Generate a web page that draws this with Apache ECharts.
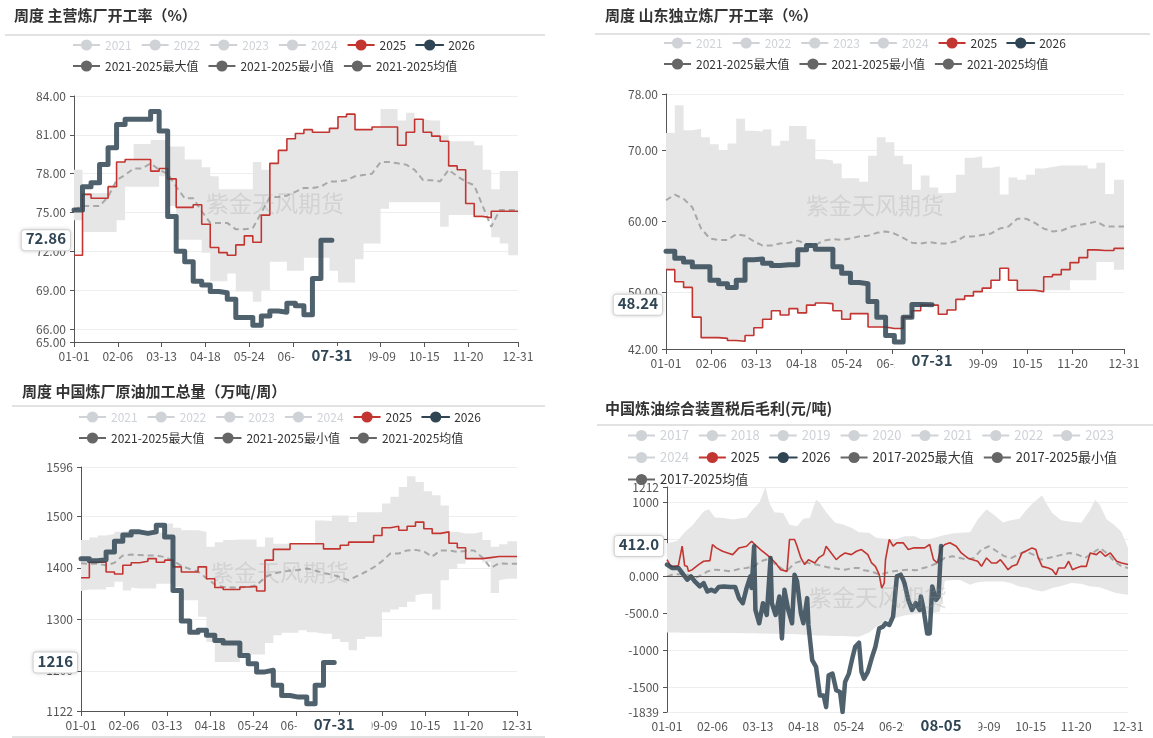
<!DOCTYPE html>
<html>
<head>
<meta charset="utf-8">
<title>炼厂开工率与毛利</title>
<script src="https://cdn.jsdelivr.net/npm/echarts@6/dist/echarts.min.js"></script>
<style>
  html, body { margin: 0; padding: 0; background: #fff; }
  .box { position: absolute; }
</style>
</head>
<body>
<div id="c1" class="box" style="left:0;top:0;width:576px;height:370px"></div>
<div id="c2" class="box" style="left:576px;top:0;width:577px;height:370px"></div>
<div id="c3" class="box" style="left:0;top:370px;width:576px;height:368px"></div>
<div id="c4" class="box" style="left:576px;top:370px;width:577px;height:368px"></div>
<script>
// x 轴：按闰年日历的 MM-DD
const CATS = [];
for (let d = new Date(2024, 0, 1); d.getFullYear() === 2024; d.setDate(d.getDate() + 1)) {
  CATS.push(String(d.getMonth() + 1).padStart(2, '0') + '-' + String(d.getDate()).padStart(2, '0'));
}

// ---- 周度 主营炼厂开工率（%） 周度数据，从 01-01 起每 7 天一个点
const p1_2025 = [71.7, 76.4, 76.1, 76.1, 77.0, 78.9, 79.1, 79.1, 79.1, 78.2, 78.4, 77.6, 75.4, 75.4, 75.6, 74.1, 72.3, 71.9, 71.7, 72.5, 73.2, 72.7, 74.8, 78.8, 79.8, 80.7, 81.1, 81.4, 81.2, 81.2, 81.5, 82.4, 82.6, 81.4, 81.4, 81.6, 81.6, 81.6, 80.2, 81.2, 82.2, 81.2, 80.9, 80.5, 78.6, 78.3, 75.7, 74.7, 74.6, 75.1, 75.1, 75.1];
const p1_2026 = [75.2, 77.0, 77.3, 78.7, 80.0, 81.8, 82.2, 82.2, 82.2, 82.8, 81.3, 74.7, 72.0, 71.2, 69.7, 69.4, 68.9, 68.8, 68.3, 66.9, 66.9, 66.3, 67.0, 67.4, 67.3, 68.0, 67.8, 67.1, 69.9, 72.86];
const p1_max = [78.3, 76.5, 76.5, 76.5, 77.0, 78.9, 79.1, 80.3, 80.3, 80.6, 80.6, 80.1, 80.1, 79.1, 79.1, 78.5, 77.8, 76.8, 76.8, 76.8, 76.8, 78.9, 78.3, 78.8, 79.8, 80.7, 81.1, 81.4, 81.2, 81.2, 81.5, 82.4, 82.6, 81.4, 81.4, 81.6, 83.0, 83.0, 82.1, 82.7, 82.2, 82.1, 82.1, 81.0, 80.5, 80.5, 80.5, 80.2, 78.3, 76.8, 78.2, 78.2];
const p1_min = [74.4, 73.5, 73.5, 73.5, 73.5, 74.4, 77.0, 77.0, 77.0, 77.0, 77.8, 75.5, 72.9, 72.9, 72.9, 71.9, 69.7, 69.7, 70.3, 68.9, 68.9, 68.1, 69.0, 71.2, 71.2, 70.5, 70.5, 71.5, 71.5, 71.5, 70.5, 69.6, 69.6, 71.4, 72.6, 72.6, 75.3, 75.8, 75.8, 75.8, 75.8, 75.8, 75.8, 73.9, 74.8, 74.8, 74.8, 74.8, 74.8, 73.1, 72.6, 71.7];
const p1_avg = [75.2, 75.5, 75.5, 75.5, 76.2, 77.5, 77.9, 78.4, 78.4, 78.8, 78.3, 78.0, 77.0, 76.1, 76.1, 75.1, 74.2, 74.2, 74.2, 73.7, 73.7, 73.8, 75.0, 76.2, 76.2, 76.3, 76.6, 76.9, 76.9, 77.0, 77.4, 77.4, 77.5, 77.8, 77.9, 78.0, 78.9, 78.9, 78.8, 78.7, 78.3, 77.5, 77.5, 77.4, 78.3, 77.8, 77.4, 77.1, 75.5, 73.9, 75.2, 75.2];

// ---- 周度 山东独立炼厂开工率（%）
const p2_2025 = [53.2, 51.5, 50.7, 46.5, 43.6, 43.6, 43.5, 43.2, 43.1, 43.9, 45.0, 46.2, 47.4, 46.8, 47.7, 47.1, 48.2, 48.5, 48.4, 47.4, 46.2, 47.0, 47.0, 45.1, 45.1, 44.9, 44.9, 46.5, 47.4, 48.2, 48.2, 46.9, 47.5, 49.0, 49.5, 50.1, 50.6, 51.7, 53.4, 51.7, 50.3, 50.3, 50.1, 52.2, 52.5, 53.2, 54.2, 54.9, 56.0, 55.9, 55.9, 56.2];
const p2_2026 = [55.8, 54.8, 54.3, 53.6, 53.6, 51.7, 51.2, 50.7, 51.7, 54.6, 54.7, 54.1, 53.8, 53.9, 53.9, 56.0, 56.6, 56.1, 56.1, 53.6, 52.7, 51.4, 51.2, 48.7, 46.5, 43.9, 43.0, 46.5, 48.3, 48.24];
const p2_max = [72.5, 76.4, 72.9, 73.1, 71.9, 70.9, 70.1, 71.0, 74.5, 72.8, 72.7, 73.0, 70.7, 71.4, 73.5, 73.5, 71.6, 68.8, 68.6, 68.2, 66.1, 66.1, 65.6, 69.3, 71.9, 71.2, 69.3, 68.1, 64.5, 66.5, 64.8, 64.0, 64.1, 66.6, 69.0, 69.2, 67.6, 67.8, 63.8, 66.2, 65.9, 66.6, 67.5, 67.7, 67.9, 67.9, 67.9, 67.9, 67.5, 68.3, 63.9, 65.9];
const p2_min = [53.2, 51.5, 50.7, 46.5, 43.6, 43.6, 43.5, 43.2, 43.1, 43.9, 45.0, 46.2, 47.4, 46.8, 47.7, 47.1, 48.2, 48.5, 48.4, 47.4, 46.2, 47.0, 47.0, 45.1, 45.1, 44.9, 44.9, 46.5, 47.4, 48.2, 48.2, 46.9, 47.5, 49.0, 49.5, 50.1, 50.6, 51.7, 53.4, 51.7, 50.3, 50.3, 50.1, 50.3, 50.3, 50.3, 51.7, 51.7, 51.7, 54.3, 54.3, 53.2];
const p2_avg = [63.0, 63.8, 63.2, 62.0, 59.0, 57.6, 57.4, 57.4, 58.2, 58.0, 57.2, 56.6, 56.6, 56.9, 57.0, 57.3, 56.8, 56.7, 57.3, 57.5, 57.4, 57.6, 57.9, 58.0, 58.4, 58.6, 58.3, 57.7, 57.0, 56.9, 57.1, 56.9, 56.9, 57.2, 57.9, 57.9, 58.1, 58.3, 59.0, 59.3, 60.4, 60.4, 59.8, 59.0, 58.6, 58.7, 59.2, 59.5, 59.7, 60.0, 59.3, 59.3];

// ---- 周度 中国炼厂原油加工总量（万吨/周）
const p3_2025 = [1381, 1411, 1411, 1392, 1388, 1405, 1410, 1413, 1418, 1411, 1415, 1402, 1392, 1392, 1402, 1379, 1362, 1358, 1358, 1363, 1364, 1355, 1415, 1436, 1436, 1447, 1447, 1447, 1447, 1437, 1437, 1444, 1450, 1450, 1450, 1463, 1478, 1481, 1473, 1481, 1489, 1476, 1467, 1470, 1448, 1439, 1418, 1418, 1420, 1422, 1422, 1422];
const p3_2026 = [1418, 1414, 1416, 1431, 1452, 1464, 1470, 1467, 1470, 1483, 1460, 1356, 1297, 1275, 1279, 1269, 1259, 1254, 1254, 1230, 1214, 1198, 1201, 1172, 1152, 1149, 1149, 1136, 1172, 1216];
const p3_max = [1454, 1459, 1463, 1466, 1470, 1472, 1472, 1470, 1470, 1467, 1486, 1478, 1473, 1473, 1470, 1441, 1450, 1454, 1455, 1455, 1455, 1441, 1459, 1447, 1447, 1447, 1447, 1447, 1492, 1491, 1502, 1502, 1489, 1508, 1508, 1508, 1525, 1538, 1557, 1578, 1567, 1549, 1541, 1521, 1470, 1467, 1467, 1470, 1454, 1441, 1446, 1452];
const p3_min = [1355, 1358, 1358, 1363, 1373, 1356, 1362, 1360, 1360, 1369, 1369, 1363, 1337, 1337, 1305, 1256, 1217, 1217, 1217, 1233, 1232, 1232, 1254, 1269, 1274, 1274, 1279, 1275, 1275, 1272, 1262, 1256, 1240, 1262, 1266, 1266, 1314, 1319, 1324, 1334, 1347, 1350, 1319, 1376, 1398, 1408, 1418, 1418, 1411, 1351, 1376, 1379];
const p3_avg = [1409, 1408, 1408, 1405, 1410, 1424, 1426, 1425, 1424, 1424, 1421, 1414, 1404, 1398, 1393, 1380, 1368, 1363, 1362, 1362, 1363, 1366, 1382, 1389, 1392, 1395, 1396, 1399, 1395, 1390, 1387, 1382, 1376, 1384, 1392, 1401, 1413, 1428, 1428, 1434, 1435, 1432, 1422, 1434, 1434, 1431, 1433, 1434, 1420, 1400, 1409, 1408];

// ---- 中国炼油综合装置税后毛利(元/吨)  日度数据：日序号 + 数值
const p4_2025_days = [0, 3, 6, 9, 12, 14, 16, 17, 20, 25, 29, 34, 36, 39, 44, 48, 52, 57, 63, 67, 71, 74, 79, 82, 86, 90, 95, 97, 101, 103, 106, 109, 112, 117, 120, 124, 126, 130, 134, 137, 141, 146, 150, 154, 159, 162, 165, 168, 170, 172, 173, 176, 179, 182, 187, 191, 195, 200, 204, 208, 211, 214, 217, 220, 224, 229, 233, 238, 242, 246, 249, 253, 257, 261, 264, 267, 270, 273, 277, 281, 284, 289, 292, 294, 297, 302, 305, 308, 310, 315, 318, 321, 324, 328, 332, 335, 340, 343, 347, 351, 356, 360, 365];
const p4_2025 = [227, 136, 136, 145, 409, 145, 136, 68, 91, 160, 205, 214, 432, 386, 341, 318, 295, 386, 409, 477, 409, 364, 295, 250, 182, 91, 68, 500, 500, 409, 250, 160, 227, 182, 250, 295, 409, 318, 227, 273, 318, 295, 341, 364, 295, 182, 136, 23, -159, -91, 227, 500, 409, 455, 455, 364, 386, 386, 386, 432, 227, 182, 386, 432, 455, 409, 318, 250, 227, 205, 136, 250, 182, 182, 227, 160, 91, 136, 160, 318, 341, 386, 364, 250, 136, 114, 91, 23, 114, 114, 205, 91, 114, 136, 136, 318, 295, 341, 273, 318, 205, 182, 160];
const p4_2026_days = [0, 4, 9, 13, 16, 19, 22, 26, 29, 32, 35, 38, 41, 45, 50, 54, 57, 60, 63, 66, 67, 69, 70, 73, 76, 79, 82, 83, 86, 89, 91, 93, 96, 99, 101, 103, 106, 108, 111, 112, 115, 118, 121, 124, 126, 128, 131, 134, 137, 139, 141, 144, 147, 149, 152, 154, 156, 159, 162, 165, 168, 171, 173, 176, 179, 182, 185, 187, 188, 191, 194, 197, 200, 201, 203, 206, 208, 210, 213, 215, 217];
const p4_2026 = [160, 114, 114, 23, -45, 0, -68, -136, -91, -205, -180, -205, -145, -136, -145, -145, -295, -364, -159, 0, -159, 409, -455, -636, -364, -523, 250, -364, -523, -273, -841, -182, -455, -636, 23, -68, -500, -636, -295, -659, -1136, -1227, -1614, -1614, -1773, -1341, -1318, -1545, -1568, -1839, -1432, -1318, -1091, -955, -900, -1295, -1386, -1295, -1114, -955, -705, -682, -636, -659, -545, 0, 23, -45, -91, -318, -455, -364, -455, -273, -432, -773, -773, -136, -318, -273, 412];
const p4_avg_days = [0, 4, 10, 16, 22, 28, 32, 38, 44, 50, 57, 63, 69, 74, 80, 86, 92, 96, 101, 106, 112, 118, 124, 130, 136, 141, 147, 152, 156, 162, 168, 173, 179, 185, 191, 197, 203, 208, 214, 220, 226, 232, 238, 243, 249, 255, 261, 267, 273, 278, 284, 290, 296, 302, 308, 313, 319, 325, 331, 337, 343, 348, 354, 360, 365];
const p4_avg = [0, 23, 30, 23, -23, 23, 68, 91, 82, 68, 100, 114, 136, 205, 236, 160, 91, 91, 182, 205, 182, 160, 136, 114, 100, 91, 114, 114, 82, 68, 23, 45, 68, 82, 91, 82, 114, 136, 182, 250, 273, 250, 227, 250, 364, 409, 341, 273, 250, 295, 341, 295, 227, 250, 273, 295, 318, 295, 250, 318, 386, 318, 205, 136, 114];
const p4_band_days = [0, 8, 14, 20, 29, 33, 38, 45, 52, 63, 68, 73, 78, 81, 85, 92, 97, 103, 108, 113, 118, 121, 126, 133, 140, 146, 152, 160, 166, 174, 181, 188, 196, 202, 209, 216, 220, 226, 232, 240, 246, 253, 260, 266, 272, 279, 285, 290, 297, 300, 305, 312, 320, 328, 335, 339, 343, 348, 354, 360, 365];
const p4_max = [450, 480, 600, 690, 880, 910, 800, 790, 770, 800, 910, 1000, 1212, 1000, 870, 860, 700, 680, 780, 790, 1040, 1000, 870, 730, 700, 660, 600, 590, 520, 510, 500, 545, 545, 500, 510, 545, 560, 580, 590, 600, 770, 910, 820, 730, 760, 780, 910, 1000, 1100, 1000, 860, 760, 740, 727, 900, 1040, 960, 773, 700, 600, 386];
const p4_min = [-760, -762, -763, -764, -765, -765, -766, -767, -768, -770, -772, -775, -776, -778, -779, -780, -782, -785, -790, -795, -800, -802, -805, -808, -810, -815, -820, -760, -680, -600, -560, -530, -510, -500, -500, -480, -60, -50, -50, -114, -80, -70, -68, -68, -90, -136, -150, -180, -205, -190, -159, -130, -91, -100, -136, -140, -150, -180, -220, -240, -250];

const FONT = "'Noto Sans CJK SC', 'Noto Sans', sans-serif";
const RED = '#c23531';
const NAVY = '#2f4554';
const fmt4 = v => Number(v).toPrecision(4);
const showTick = i => (i % 36 === 0 && i < 360) || i === 365;

// 周度数值 -> [日序号, 值]，最后一周延续到 endDay
function weekly(vals, endDay) {
  const pts = vals.map((v, i) => [i * 7, v]);
  if (endDay > (vals.length - 1) * 7) pts.push([endDay, vals[vals.length - 1]]);
  return pts;
}
function paired(days, vals) {
  return days.map((d, i) => [d, vals[i]]);
}
function diffOf(max, min) {
  return max.map((v, i) => +(v - min[i]).toFixed(4));
}

function buildOption(p) {
  const selected = {};
  p.hiddenYears.forEach(y => { selected[y] = false; });
  const bandIcon = { itemStyle: { color: '#666' }, lineStyle: { color: '#666', opacity: 1, type: 'solid' } };
  const legendData = p.hiddenYears.concat(['2025', '2026']).map(n => ({ name: n }))
    .concat([p.names.max, p.names.min, p.names.avg].map(n => Object.assign({ name: n }, bandIcon)));

  const base = { type: 'line', symbol: 'circle', symbolSize: 6, showSymbol: false, silent: true };
  const series = p.hiddenYears.map(y => Object.assign({}, base, { name: y, data: [] }));
  series.push(Object.assign({}, base, {
    name: p.names.min, data: p.band.min, stack: 'band', stackStrategy: 'all', step: p.step,
    itemStyle: { color: '#666' }, lineStyle: { color: '#666', opacity: 0 }
  }));
  series.push(Object.assign({}, base, {
    name: p.names.max, data: p.band.diff, stack: 'band', stackStrategy: 'all', step: p.step,
    itemStyle: { color: '#666' }, lineStyle: { color: '#666', opacity: 0 },
    areaStyle: { color: '#e6e6e6', opacity: 1 }
  }));
  const avg = Object.assign({}, base, {
    name: p.names.avg, data: p.avg,
    itemStyle: { color: '#666' }, lineStyle: { color: '#a8a8a8', width: 2, type: [6, 4] }
  });
  if (p.zeroLine) {
    avg.markLine = {
      silent: true, symbol: 'none', label: { show: false }, animation: false,
      lineStyle: { color: '#555', type: 'solid', width: 1 }, data: [{ yAxis: 0 }]
    };
  }
  series.push(avg);
  series.push(Object.assign({}, base, {
    name: '2025', data: p.s2025, step: p.step,
    itemStyle: { color: RED }, lineStyle: { color: RED, width: 1.6 }
  }));
  series.push(Object.assign({}, base, {
    name: '2026', data: p.s2026, step: p.step,
    itemStyle: { color: NAVY },
    lineStyle: { color: NAVY, width: p.thick, opacity: 0.85, cap: 'round', join: 'round' }
  }));

  const pointerLabel = {
    show: true, backgroundColor: '#fff', color: NAVY, fontWeight: 'bold', fontSize: 15, fontFamily: FONT
  };

  return {
    animation: false,
    textStyle: { fontFamily: FONT },
    title: {
      text: p.title, left: p.titlePos[0], top: p.titlePos[1], padding: 0,
      textStyle: { fontSize: 15, fontWeight: 'bold', color: '#333', fontFamily: FONT }
    },
    legend: {
      left: p.legend.left, top: p.legend.top, width: p.legend.width, padding: 0,
      itemWidth: 27, itemHeight: 14, itemGap: 9,
      textStyle: { fontSize: p.legend.fontSize, color: '#333' },
      lineStyle: { width: 2, opacity: 1, type: 'solid' },
      data: legendData, selected: selected
    },
    grid: p.grid,
    xAxis: {
      type: 'category', data: CATS, boundaryGap: false,
      axisLine: { show: !p.zeroLine, onZero: false, lineStyle: { color: '#555' } },
      axisTick: { show: !p.zeroLine, interval: i => showTick(i), length: 5, lineStyle: { color: '#555' } },
      axisLabel: { interval: i => showTick(i), color: '#555', fontSize: 12, margin: 8 },
      splitLine: { show: false },
      axisPointer: {
        show: true, type: 'line', value: p.pointer.day, status: 'show', triggerTooltip: false,
        lineStyle: { opacity: 0 },
        label: Object.assign({}, pointerLabel, { padding: [2, 17], margin: 4 })
      }
    },
    yAxis: {
      type: 'value', min: p.yRange[0], max: p.yRange[1],
      axisLine: { show: true, lineStyle: { color: '#555' } },
      axisTick: { show: true, length: 4, lineStyle: { color: '#555' } },
      axisLabel: { formatter: fmt4, color: '#555', fontSize: 12 },
      splitLine: { lineStyle: { color: '#eee' } },
      axisPointer: {
        show: true, type: 'line', value: p.pointer.val, status: 'show', triggerTooltip: false,
        lineStyle: { opacity: 0 },
        label: Object.assign({}, pointerLabel, {
          formatter: q => fmt4(q.value), padding: [1, 4, 4, 4], margin: 4,
          borderColor: '#ddd', borderWidth: 1, borderRadius: 3,
          shadowBlur: 4, shadowColor: 'rgba(0,0,0,0.15)'
        })
      }
    },
    graphic: p.lines.map(l => ({
      type: 'line', silent: true,
      shape: { x1: l[0], y1: l[1], x2: l[2], y2: l[1] },
      style: { stroke: '#e2e2e2', lineWidth: 2 }
    })).concat([{
      type: 'text', silent: true, z: 100, x: p.mark[0], y: p.mark[1],
      style: {
        text: '紫金天风期货', fontSize: 23, fontFamily: FONT,
        fill: 'rgba(150,150,150,0.25)', align: 'center', verticalAlign: 'middle'
      }
    }]),
    series: series
  };
}

const YEARS21 = ['2021', '2022', '2023', '2024'];
const NAMES21 = { max: '2021-2025最大值', min: '2021-2025最小值', avg: '2021-2025均值' };

const panels = [
  {
    id: 'c1', title: '周度 主营炼厂开工率（%）', titlePos: [14, 8],
    hiddenYears: YEARS21, names: NAMES21, step: 'end', thick: 5,
    legend: { left: 72, top: 39, width: 450, fontSize: 12 },
    grid: { left: 74, right: 58, top: 96, bottom: 28 },
    yRange: [65, 84],
    s2025: weekly(p1_2025, 365), s2026: weekly(p1_2026, 212), avg: weekly(p1_avg, 365),
    band: { min: weekly(p1_min, 365), diff: weekly(diffOf(p1_max, p1_min), 365) },
    pointer: { day: 212, val: 72.86 },
    lines: [[5, 35, 545]], mark: [275, 203]
  },
  {
    id: 'c2', title: '周度 山东独立炼厂开工率（%）', titlePos: [29, 8],
    hiddenYears: YEARS21, names: NAMES21, step: 'end', thick: 5,
    legend: { left: 87, top: 37, width: 450, fontSize: 12 },
    grid: { left: 90, right: 29, top: 94, bottom: 21 },
    yRange: [42, 78],
    s2025: weekly(p2_2025, 365), s2026: weekly(p2_2026, 212), avg: weekly(p2_avg, 365),
    band: { min: weekly(p2_min, 365), diff: weekly(diffOf(p2_max, p2_min), 365) },
    pointer: { day: 212, val: 48.24 },
    lines: [[19, 34, 574]], mark: [299, 205]
  },
  {
    id: 'c3', title: '周度 中国炼厂原油加工总量（万吨/周）', titlePos: [22, 14],
    hiddenYears: YEARS21, names: NAMES21, step: 'end', thick: 5,
    legend: { left: 78, top: 41, width: 450, fontSize: 12 },
    grid: { left: 81, right: 59, top: 97, bottom: 27 },
    yRange: [1122, 1596],
    s2025: weekly(p3_2025, 365), s2026: weekly(p3_2026, 212), avg: weekly(p3_avg, 365),
    band: { min: weekly(p3_min, 365), diff: weekly(diffOf(p3_max, p3_min), 365) },
    pointer: { day: 212, val: 1216 },
    lines: [[12, 36, 545], [12, 367, 545]], mark: [280, 202]
  },
  {
    id: 'c4', title: '中国炼油综合装置税后毛利(元/吨)', titlePos: [29, 31],
    hiddenYears: ['2017', '2018', '2019', '2020', '2021', '2022', '2023', '2024'],
    names: { max: '2017-2025最大值', min: '2017-2025最小值', avg: '2017-2025均值' },
    step: false, thick: 4.5, zeroLine: true,
    legend: { left: 51, top: 59, width: 500, fontSize: 13 },
    grid: { left: 91, right: 25, top: 117, bottom: 26 },
    yRange: [-1839, 1212],
    s2025: paired(p4_2025_days, p4_2025), s2026: paired(p4_2026_days, p4_2026),
    avg: paired(p4_avg_days, p4_avg),
    band: { min: paired(p4_band_days, p4_min), diff: paired(p4_band_days, diffOf(p4_max, p4_min)) },
    pointer: { day: 217, val: 412 },
    lines: [[21, 55, 577]], mark: [302, 227]
  }
];

panels.forEach(p => {
  const chart = echarts.init(document.getElementById(p.id), null, { renderer: 'canvas' });
  chart.setOption(buildOption(p));
});
</script>
</body>
</html>
